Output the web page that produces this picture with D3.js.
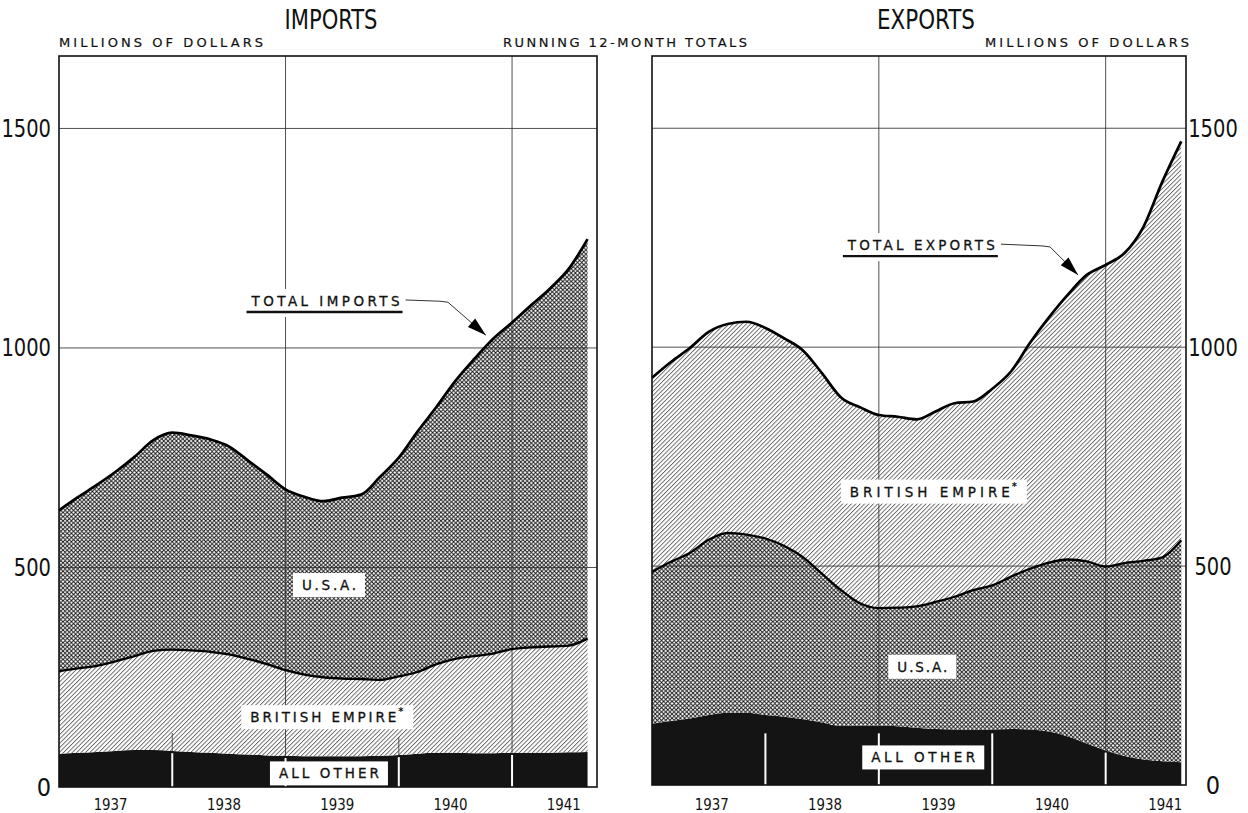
<!DOCTYPE html>
<html>
<head>
<meta charset="utf-8">
<script src="https://cdn.jsdelivr.net/npm/d3@7/dist/d3.min.js"></script>
<style>
  body { margin: 0; background: #fff; }
  svg { display: block; }
</style>
</head>
<body>
<svg id="chart" width="1248" height="813"></svg>
<script>
// ---------------- DATA (running 12-month totals, millions of dollars) ----------------
// months since January 1937, every second month
const months = [0, 2, 4, 6, 8, 10, 12, 14, 16, 18, 20, 22, 24, 26, 28, 30, 32, 34, 36, 38, 40, 42, 44, 46, 48, 50, 52, 54, 56];
const yearLabels = ["1937", "1938", "1939", "1940", "1941"];
const yTicks = [0, 500, 1000, 1500];

// Imports by origin
const importsAllOther = [76, 78, 80, 82, 84, 84, 82, 80, 78, 76, 74, 72, 71, 70, 70, 70, 70, 71, 73, 76, 78, 78, 77, 77, 78, 78, 78, 79, 80];
const importsBritish  = [188, 192, 196, 204, 214, 226, 231, 231, 230, 226, 218, 208, 195, 186, 180, 177, 176, 173, 179, 186, 202, 214, 221, 227, 236, 240, 242, 243, 258];
const importsUSA      = [366, 390, 412, 432, 454, 480, 494, 490, 484, 474, 452, 432, 412, 405, 401, 412, 420, 462, 498, 548, 586, 633, 677, 717, 744, 779, 815, 858, 910];

// Exports by destination
const exportsAllOther = [140, 146, 152, 160, 165, 165, 160, 156, 150, 143, 135, 136, 136, 134, 131, 128, 127, 126, 127, 128, 127, 122, 111, 95, 79, 66, 58, 54, 52];
const exportsUSA      = [347, 364, 378, 400, 411, 407, 403, 390, 370, 339, 310, 279, 268, 271, 277, 290, 303, 319, 329, 348, 367, 386, 404, 416, 420, 441, 454, 466, 507];
const exportsBritish  = [443, 456, 468, 475, 477, 486, 481, 474, 472, 458, 440, 448, 441, 436, 427, 435, 442, 431, 449, 469, 516, 560, 605, 654, 689, 708, 763, 858, 911];

// ---------------- DRAWING ----------------
const svg = d3.select("#chart");
const defs = svg.append("defs");
const NARROW = "'Liberation Sans Narrow', 'DejaVu Sans Condensed', 'Arial Narrow', sans-serif";
const LABEL = "'DejaVu Sans', 'Noto Sans', sans-serif";
const yMax = 1665;

// crosshatch pattern (U.S.A.)
const xh = defs.append("pattern").attr("id", "xhatch")
  .attr("patternUnits", "userSpaceOnUse").attr("width", 4.2).attr("height", 4.2);
xh.append("rect").attr("width", 4.2).attr("height", 4.2).attr("fill", "#fff");
xh.append("path").attr("d", "M0,0L4.2,4.2M4.2,0L0,4.2")
  .attr("stroke", "#151515").attr("stroke-width", 0.95);

// diagonal hatch pattern (British Empire)
const dh = defs.append("pattern").attr("id", "dhatch")
  .attr("patternUnits", "userSpaceOnUse").attr("width", 3.1).attr("height", 10)
  .attr("patternTransform", "rotate(45)");
dh.append("rect").attr("width", 3.1).attr("height", 10).attr("fill", "#fff");
dh.append("line").attr("x1", 0.5).attr("x2", 0.5).attr("y1", 0).attr("y2", 10)
  .attr("stroke", "#222").attr("stroke-width", 0.72);

function labelText(sel, size) {
  return sel.attr("font-family", LABEL).attr("font-size", size).attr("fill", "#111")
    .attr("stroke", "#111").attr("stroke-width", 0.3);
}

function addBoxLabel(g, text, cx, cy, len, star) {
  const lg = g.append("g");
  const rect = lg.append("rect").attr("fill", "#fff");
  const t = labelText(lg.append("text"), 13.5)
    .attr("x", cx).attr("y", cy)
    .attr("text-anchor", "middle").attr("dominant-baseline", "central")
    .attr("textLength", len).attr("lengthAdjust", "spacing")
    .text(text);
  let bb = t.node().getBBox();
  let right = bb.x + bb.width;
  if (star) {
    lg.append("text").attr("x", right + 2).attr("y", bb.y + 6)
      .attr("font-family", LABEL).attr("font-size", 10).attr("font-weight", "bold").attr("fill", "#111").text("*");
    right += 8;
  }
  rect.attr("x", bb.x - 9).attr("y", bb.y - 4)
    .attr("width", right - bb.x + 18).attr("height", bb.height + 8);
  return lg;
}

function drawPanel(cfg) {
  const x = d3.scaleLinear().domain([0, cfg.xMax]).range([cfg.left, cfg.right]);
  const y = d3.scaleLinear().domain([0, yMax]).range([cfg.bottom, cfg.top]);
  const rows = months.map((m, i) => {
    const r = { m };
    cfg.keys.forEach(k => r[k] = cfg.series[k][i]);
    return r;
  });
  const stacked = d3.stack().keys(cfg.keys)(rows);
  const g = svg.append("g");

  const area = d3.area().curve(d3.curveMonotoneX)
    .x(d => x(d.data.m)).y0(d => y(d[0])).y1(d => y(d[1]));
  stacked.forEach((layer, i) => {
    g.append("path").datum(layer).attr("d", area).attr("fill", cfg.fills[i]);
  });

  const aoVal = m => cfg.series[cfg.keys[0]][months.indexOf(m)];

  // horizontal grid
  yTicks.filter(v => v > 0).forEach(v => {
    g.append("line").attr("x1", cfg.left).attr("x2", cfg.right)
      .attr("y1", y(v)).attr("y2", y(v))
      .attr("stroke", "#333").attr("stroke-width", 1).attr("opacity", 0.85);
  });
  // vertical grid (Jan 1939, Jan 1941)
  [24, 48].forEach(m => {
    g.append("line").attr("x1", x(m)).attr("x2", x(m))
      .attr("y1", cfg.top).attr("y2", y(aoVal(m)))
      .attr("stroke", "#333").attr("stroke-width", 1).attr("opacity", 0.85);
  });
  // short dark ticks above the black band
  if (cfg.darkTicks) {
    [12, 36].forEach(m => {
      g.append("line").attr("x1", x(m)).attr("x2", x(m))
        .attr("y1", y(aoVal(m))).attr("y2", y(aoVal(m)) - 18)
        .attr("stroke", "#444").attr("stroke-width", 0.9);
    });
  }
  // white year ticks inside black band
  [12, 24, 36, 48].forEach(m => {
    const top = Math.min(aoVal(m) - 5, cfg.tickCap);
    g.append("line").attr("x1", x(m)).attr("x2", x(m))
      .attr("y1", cfg.bottom).attr("y2", y(top))
      .attr("stroke", "#fff").attr("stroke-width", 2);
  });

  // boundary lines
  const line = d3.line().curve(d3.curveMonotoneX).x(d => x(d.data.m)).y(d => y(d[1]));
  g.append("path").datum(stacked[1]).attr("d", line)
    .attr("fill", "none").attr("stroke", "#000").attr("stroke-width", 2.3).attr("stroke-linejoin", "round");
  g.append("path").datum(stacked[2]).attr("d", line)
    .attr("fill", "none").attr("stroke", "#000").attr("stroke-width", 2.7).attr("stroke-linejoin", "round");

  // frame
  g.append("rect").attr("x", cfg.left).attr("y", cfg.top)
    .attr("width", cfg.right - cfg.left).attr("height", cfg.bottom - cfg.top)
    .attr("fill", "none").attr("stroke", "#111").attr("stroke-width", 1.6);

  // y tick labels
  yTicks.forEach(v => {
    const s = String(v);
    const t = g.append("text").attr("x", cfg.yLabelX).attr("y", y(v))
      .attr("text-anchor", cfg.yLabelAnchor).attr("dominant-baseline", "central")
      .attr("font-family", NARROW).attr("font-size", 25).attr("fill", "#111")
      .text(s);
    if (s.length > 1) t.attr("textLength", s.length * 12.4).attr("lengthAdjust", "spacingAndGlyphs");
  });
  // year labels
  yearLabels.forEach((lab, i) => {
    g.append("text").attr("x", x(i * 12 + 6) + cfg.yearDx).attr("y", 810)
      .attr("text-anchor", "middle")
      .attr("font-family", NARROW).attr("font-size", 15).attr("fill", "#111")
      .attr("textLength", 34).attr("lengthAdjust", "spacingAndGlyphs")
      .text(lab);
  });

  // title
  g.append("text").attr("x", cfg.titleX).attr("y", 29).attr("text-anchor", "middle")
    .attr("font-family", NARROW).attr("font-size", 26).attr("fill", "#111")
    .attr("textLength", cfg.titleLen).attr("lengthAdjust", "spacingAndGlyphs").text(cfg.title);

  // area labels
  cfg.labels.forEach(l => addBoxLabel(g, l.text, x(l.m), y(l.v), l.len, l.star));

  // total label with underline and leader arrow
  const tl = cfg.total;
  const tt = labelText(g.append("text"), 13.5).attr("x", x(tl.m)).attr("y", y(tl.v))
    .attr("text-anchor", "middle").attr("dominant-baseline", "central")
    .attr("textLength", tl.len).attr("lengthAdjust", "spacing").text(tl.text);
  const bb = tt.node().getBBox();
  g.insert("rect", () => tt.node()).attr("x", bb.x - 4).attr("y", bb.y - 4)
    .attr("width", bb.width + 8).attr("height", bb.height + 12).attr("fill", "#fff");
  g.append("line").attr("x1", bb.x - 4).attr("x2", bb.x + bb.width + 3)
    .attr("y1", bb.y + bb.height + 3).attr("y2", bb.y + bb.height + 3)
    .attr("stroke", "#111").attr("stroke-width", 2.4);
  const tipX = x(tl.tipM), tipY = y(tl.tipV);
  const elbowX = tipX - tl.dx, elbowY = tipY - tl.dy;
  const sx = bb.x + bb.width + 6, sy = y(tl.v) - 1;
  g.append("path").attr("d", `M${sx},${sy}L${elbowX - 8},${elbowY - 1}L${elbowX},${elbowY}L${tipX},${tipY}`)
    .attr("fill", "none").attr("stroke", "#333").attr("stroke-width", 1);
  const ang = Math.atan2(tl.dy, tl.dx);
  const L = 19, W = 5.5;
  const bx = tipX - L * Math.cos(ang), by = tipY - L * Math.sin(ang);
  const px = -Math.sin(ang) * W, py = Math.cos(ang) * W;
  g.append("path").attr("d", `M${tipX},${tipY}L${bx + px},${by + py}L${bx - px},${by - py}Z`)
    .attr("fill", "#000");
}

drawPanel({
  left: 59, right: 597, top: 56, bottom: 787, xMax: 57,
  keys: ["allOther", "british", "usa"],
  series: { allOther: importsAllOther, british: importsBritish, usa: importsUSA },
  fills: ["#141414", "url(#dhatch)", "url(#xhatch)"],
  darkTicks: true, tickCap: 9999,
  yLabelX: 51, yLabelAnchor: "end", yearDx: -5,
  title: "IMPORTS", titleX: 331, titleLen: 93,
  labels: [
    { text: "U.S.A.", m: 28.6, v: 460, len: 54, star: false },
    { text: "BRITISH EMPIRE", m: 28.0, v: 159, len: 146, star: true },
    { text: "ALL OTHER", m: 28.6, v: 31, len: 100, star: false }
  ],
  total: { text: "TOTAL IMPORTS", m: 28.24, v: 1107, len: 148, tipM: 45.23, tipV: 1029, dx: 38, dy: 33 }
});

drawPanel({
  left: 652, right: 1186, top: 56, bottom: 785, xMax: 56.5,
  keys: ["allOther", "usa", "british"],
  series: { allOther: exportsAllOther, usa: exportsUSA, british: exportsBritish },
  fills: ["#141414", "url(#xhatch)", "url(#dhatch)"],
  darkTicks: false, tickCap: 118,
  yLabelX: 1213, yLabelAnchor: "middle", yearDx: 3,
  title: "EXPORTS", titleX: 926, titleLen: 98,
  labels: [
    { text: "BRITISH EMPIRE", m: 29.4, v: 670, len: 160, star: true },
    { text: "U.S.A.", m: 28.6, v: 270, len: 50, star: false },
    { text: "ALL OTHER", m: 28.7, v: 63, len: 104, star: false }
  ],
  total: { text: "TOTAL EXPORTS", m: 28.5, v: 1233, len: 147, tipM: 45.08, tipV: 1165, dx: 28, dy: 28 }
});

// header texts
const hdr = [
  { text: "MILLIONS OF DOLLARS", x: 59, anchor: "start", len: 204 },
  { text: "RUNNING 12-MONTH TOTALS", x: 625, anchor: "middle", len: 244 },
  { text: "MILLIONS OF DOLLARS", x: 1189, anchor: "end", len: 204 }
];
hdr.forEach(h => {
  labelText(svg.append("text"), 13).attr("x", h.x).attr("y", 47).attr("text-anchor", h.anchor)
    .attr("stroke-width", 0.2)
    .attr("textLength", h.len).attr("lengthAdjust", "spacing").text(h.text);
});
</script>
</body>
</html>
